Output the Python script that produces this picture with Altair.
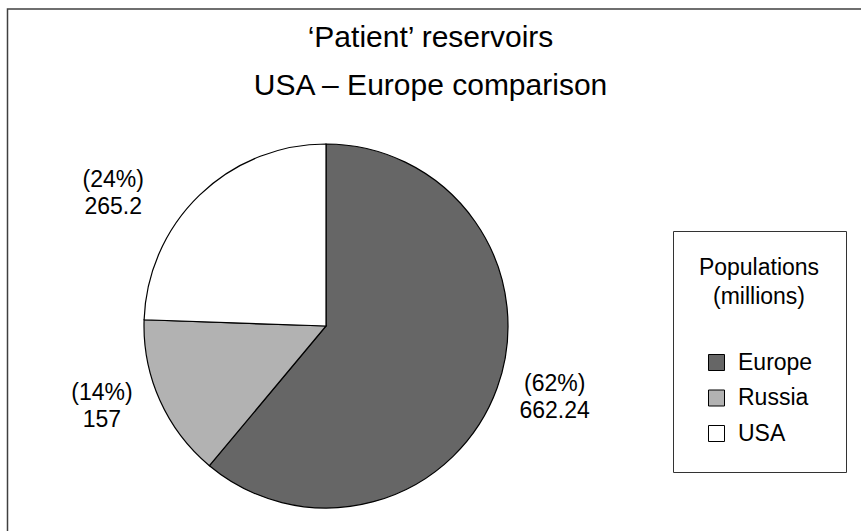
import altair as alt
import pandas as pd

regions = ["Europe", "Russia", "USA"]
populations = [662.24, 157, 265.2]
percent_labels = ["(62%)", "(14%)", "(24%)"]
value_labels = ["662.24", "157", "265.2"]
colors = ["#666666", "#b2b2b2", "#ffffff"]

df = pd.DataFrame({
    "region": regions,
    "value": populations,
    "idx": list(range(len(regions))),
    "label": [p + "\n" + v for p, v in zip(percent_labels, value_labels)],
})

FONT = "Liberation Sans"
CX, CY, R = 326, 326, 182

base = alt.Chart(df)

pie = base.mark_arc(radius=R, stroke="black", strokeWidth=1.2).encode(
    theta=alt.Theta("value:Q", stack=True),
    color=alt.Color(
        "region:N",
        scale=alt.Scale(domain=regions, range=colors),
        sort=regions,
        legend=alt.Legend(
            title=["Populations", "(millions)"],
            orient="none",
            legendX=673,
            legendY=231,
            direction="vertical",
            strokeColor="#333333",
            fillColor="white",
            padding=26,
            titleFont=FONT,
            titleFontSize=23,
            titleFontWeight="normal",
            titleColor="black",
            titleAlign="center",
            titleAnchor="middle",
            titleLineHeight=29,
            titlePadding=42,
            labelFont=FONT,
            labelFontSize=23,
            labelColor="black",
            labelOffset=10,
            symbolType="square",
            symbolSize=256,
            symbolStrokeColor="black",
            symbolStrokeWidth=1,
            rowPadding=11.5,
        ),
    ),
    order=alt.Order("idx:Q"),
    x=alt.value(CX),
    y=alt.value(CY),
)

offsets = {"Europe": (3, -24), "Russia": (-5, -31), "USA": (-46, 27)}
label_layers = []
for reg in regions:
    dx, dy = offsets[reg]
    label_layers.append(
        base.mark_text(
            radius=240, font=FONT, fontSize=23, color="black",
            align="center", baseline="middle", lineBreak="\n", lineHeight=27,
            dx=dx, dy=dy,
        ).encode(
            theta=alt.Theta("value:Q", stack=True),
            order=alt.Order("idx:Q"),
            text=alt.condition(alt.datum.region == reg, "label:N", alt.value("")),
            x=alt.value(CX),
            y=alt.value(CY),
        )
    )

frame = alt.Chart(alt.Data(values=[{}])).mark_rect(
    fill=None, stroke="#404040", strokeWidth=1.5
).encode(
    x=alt.value(7.5), y=alt.value(9), x2=alt.value(900), y2=alt.value(600)
)

chart = alt.layer(frame, pie, *label_layers).properties(
    width=861,
    height=531,
    padding=0,
    autosize=alt.AutoSizeParams(type="none"),
    title=alt.TitleParams(
        text=["\u2018Patient\u2019 reservoirs", "USA \u2013 Europe comparison"],
        anchor="middle",
        font=FONT,
        fontSize=30,
        fontWeight="normal",
        color="black",
        baseline="top",
        lineHeight=48,
        offset=0,
        dy=101,
    ),
).configure_view(stroke=None)

chart.save("out.html", embed_options={"renderer": "svg", "actions": False})
